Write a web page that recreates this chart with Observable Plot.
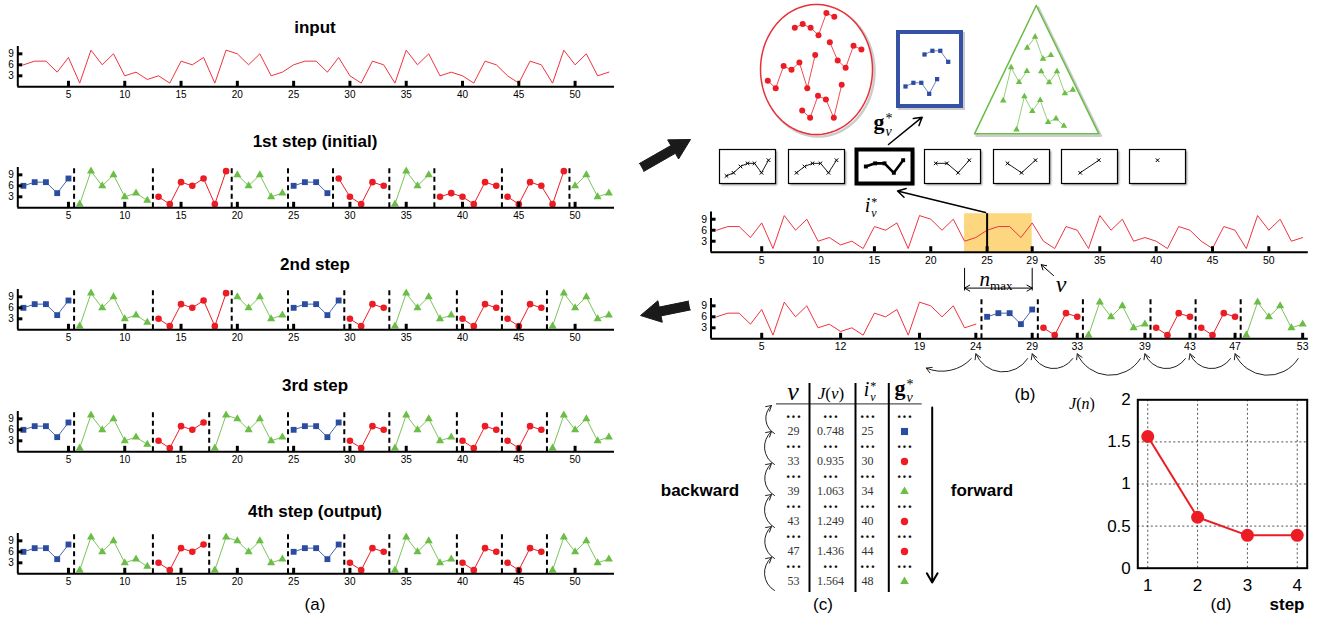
<!DOCTYPE html>
<html><head><meta charset="utf-8">
<script src="https://cdn.jsdelivr.net/npm/d3@7"></script>
<script src="https://cdn.jsdelivr.net/npm/@observablehq/plot@0.6"></script>
<style>
body{margin:0;background:#fff;}
#fig{position:relative;width:1334px;height:623px;overflow:hidden;font-family:"Liberation Sans",Arial,Helvetica,sans-serif;color:#000;}
#fig svg{overflow:visible;position:absolute;}
.title{position:absolute;font-weight:bold;font-size:17px;transform:translate(-50%,-50%);white-space:nowrap;}
.lab{position:absolute;font-size:17px;transform:translate(-50%,-50%);white-space:nowrap;}
.math{position:absolute;font-family:"Liberation Serif","DejaVu Serif",serif;font-style:italic;white-space:nowrap;line-height:1;transform:translate(-50%,-50%);}
</style></head><body><div id="fig"></div><script>
// ---------------- data ----------------
const inputSeries = [6,7,7,4,8,1,10,6,9,3,4,2,3,1,7,6,8,1,10,9,6,9,3,4,6,7,7,4,8,3,1,7,6,1,10,6,9,3,4,3,1,7,6,3,1,7,6,1,10,6,9,3,4];
const stepTitles = ["1st step (initial)","2nd step","3rd step","4th step (output)"];
const step1Segments = [[1,5,"B"],[6,12,"G"],[13,19,"R"],[20,24,"G"],[25,28,"B"],[29,33,"R"],[34,37,"G"],[38,43,"R"],[44,49,"R"],[50,53,"G"]];
const step2Segments = [[1,5,"B"],[6,12,"G"],[13,19,"R"],[20,24,"G"],[25,29,"B"],[30,33,"R"],[34,39,"G"],[40,43,"R"],[44,47,"R"],[48,53,"G"]];
const step3Segments = [[1,5,"B"],[6,12,"G"],[13,17,"R"],[18,24,"G"],[25,29,"B"],[30,33,"R"],[34,39,"G"],[40,43,"R"],[44,47,"R"],[48,53,"G"]];
const step4Segments = [[1,5,"B"],[6,12,"G"],[13,17,"R"],[18,24,"G"],[25,29,"B"],[30,33,"R"],[34,39,"G"],[40,43,"R"],[44,47,"R"],[48,53,"G"]];
const ticksA = [5,10,15,20,25,30,35,40,45,50];
const yTicks = [3,6,9];
const ticksBTop = [5,10,15,20,25,29,35,40,45,50];
const ticksBBottom = [5,12,19,24,29,33,39,43,47,53];
const backwardPrefixEnd = 24;
const backwardSegments = [[25,29,"B"],[30,33,"R"],[34,39,"G"],[40,43,"R"],[44,47,"R"],[48,53,"G"]];
const backtrackChain = [53,47,43,39,33,29,24];
const windowStart = 23, windowEnd = 29, iStar = 25;
const redCluster = [[38,43],[29,33],[13,19],[44,49]];
const blueCluster = [[25,28],[1,5]];
const greenCluster = [[50,53],[34,37],[20,24],[6,12]];
const tableV = [29,33,39,43,47,53];
const tableJ = ["0.748","0.935","1.063","1.249","1.436","1.564"];
const tableI = [25,30,34,40,44,48];
const tableG = ["B","R","G","R","R","G"];
const jSteps = [1,2,3,4];
const jValues = [1.564,0.605,0.39,0.39];

// ---------------- styles ----------------
const FONT = '"Liberation Sans", Arial, Helvetica, sans-serif';
const SERIF = '"Liberation Serif", "DejaVu Serif", serif';
const LINE_RED = "#ef3340";
const cls = {
  B:{color:"#2b4c9f", line:"#4a66ad", symbol:"square", r:3.3},
  R:{color:"#ec1c24", line:"#ec1c24", symbol:"circle", r:3.3},
  G:{color:"#6abd45", line:"#7cc35b", symbol:"triangle", r:3.0}
};
const fig = document.getElementById("fig");
function put(node, left, top){ node.style.left = left+"px"; node.style.top = top+"px"; fig.appendChild(node); return node; }
function text(html, cx, cy, className, extra){ const d=document.createElement("div"); d.className=className; d.innerHTML=html; d.style.left=cx+"px"; d.style.top=cy+"px"; if(extra) Object.assign(d.style, extra); fig.appendChild(d); return d; }
function ss(base, sup, sub, size){
  return `<span style="font-size:${size}px;">${base}</span><span style="display:inline-block;vertical-align:middle;line-height:0.95;font-size:${Math.round(size*0.62)}px;margin-left:1px;font-style:italic;font-weight:normal;color:#000"><span style="display:block;font-style:normal">*</span><span style="display:block">${sub}</span></span>`;
}
const pts = (a,b) => inputSeries.slice(a-1,b).map((v,k)=>({x:a+k, y:v}));
const segData = segs => segs.flatMap(([a,b,c],s)=>pts(a,b).map(p=>({...p, seg:s, cls:c})));
const bounds = segs => segs.slice(1).map(([a])=>a-0.5);

function segmentMarks(segs){
  const data = segData(segs);
  return [
    ...["B","R","G"].map(c=>Plot.line(data.filter(d=>d.cls===c), {x:"x", y:"y", z:"seg", stroke:cls[c].line, strokeWidth:1})),
    ...["B","R","G"].map(c=>Plot.dot(data.filter(d=>d.cls===c), {x:"x", y:"y", symbol:cls[c].symbol, r:cls[c].r, fill:cls[c].color, stroke:"none"}))
  ];
}
function dashedMarks(xs){
  return [Plot.ruleX(xs, {y1:0, y2:11, stroke:"black", strokeWidth:2, strokeDasharray:"5,3.5"})];
}
function rowPlot({marks, xticks, width, mL, mR, height, mT, mB, fs}){
  return Plot.plot({
    width, height, marginLeft:mL, marginRight:mR, marginTop:mT, marginBottom:mB,
    x:{domain:[0.5,53.5], ticks:xticks, tickSize:0, tickPadding:4, label:null},
    y:{domain:[0,11], ticks:yTicks, tickSize:0, tickPadding:4, label:null},
    style:{fontFamily:FONT, fontSize:fs+"px", color:"black", background:"transparent", overflow:"visible"},
    marks:[
      ...marks,
      Plot.ruleX(xticks, {y1:0, y2:1.5, strokeWidth:3, stroke:"black"}),
      Plot.ruleY(yTicks, {x1:0.5, x2:0.95, strokeWidth:3, stroke:"black"}),
      Plot.ruleY([0], {x1:0.5, x2:53.5, strokeWidth:2, stroke:"black"}),
      Plot.ruleX([0.5], {y1:0, y2:11, strokeWidth:2, stroke:"black"})
    ]
  });
}

// ---------------- panel (a) ----------------
const baselinesA = [86.7, 207.7, 329.5, 451.7, 573.3];
const titleYA = [28, 142, 265, 386, 512];
const stepSegs = [step1Segments, step2Segments, step3Segments, step4Segments];
function placeA(marks, i){
  const svg = rowPlot({marks, xticks:ticksA, width:625, mL:17.3, mR:11, height:75, mT:8, mB:75-48.3, fs:10});
  put(svg, 0, baselinesA[i]-48.3);
}
placeA([Plot.line(pts(1,53), {x:"x", y:"y", stroke:LINE_RED, strokeWidth:1})], 0);
text("input", 315, titleYA[0], "title");
stepSegs.forEach((segs, k) => {
  placeA([...dashedMarks(bounds(segs)), ...segmentMarks(segs)], k+1);
  text(stepTitles[k], 315, titleYA[k+1], "title");
});
text("(a)", 315, 605, "lab");

// ---------------- panel (b) top series ----------------
const bTop = rowPlot({
  marks:[
    Plot.rect([{a:windowStart, b:windowEnd}], {x1:"a", x2:"b", y1:0, y2:10.5, fill:"#fdd77f"}),
    Plot.line(pts(1,53), {x:"x", y:"y", stroke:LINE_RED, strokeWidth:1}),
    Plot.ruleX([iStar], {y1:0, y2:10.5, stroke:"black", strokeWidth:2}),
    Plot.ruleX([windowStart, windowEnd], {y1:-4.4, y2:-10.6, stroke:"black", strokeWidth:1}),
    Plot.arrow([{a:windowStart,b:windowEnd},{a:windowEnd,b:windowStart}], {x1:d=>(d.a+d.b)/2, x2:"b", y1:-9.8, y2:-9.8, stroke:"black", strokeWidth:1, headLength:9}),
    Plot.arrow([windowEnd], {x1:d=>d+1.9, y1:-6.4, x2:d=>d+0.8, y2:-3.4, stroke:"black", strokeWidth:1, headLength:9})
  ],
  xticks:ticksBTop, width:620, mL:10.5, mR:12.2, height:100, mT:11.4, mB:48.3, fs:10.5
});
put(bTop, 700, 200);

// ---------------- panel (b) bottom series ----------------
const chainPairs = backtrackChain.slice(0,-1).map((b,k)=>({from:b, to:backtrackChain[k+1]}));
const bBot = rowPlot({
  marks:[
    ...dashedMarks([backwardPrefixEnd+0.5, ...bounds(backwardSegments)]),
    Plot.line(pts(1,backwardPrefixEnd), {x:"x", y:"y", stroke:LINE_RED, strokeWidth:1}),
    ...segmentMarks(backwardSegments),
    Plot.arrow(chainPairs, {x1:d=>d.from-0.4, y1:-5.4, x2:d=>d.to, y2:-4.1, bend:62, stroke:"#222", strokeWidth:1, headLength:9}),
    Plot.arrow([backtrackChain[backtrackChain.length-1]], {x1:d=>d-0.4, y1:-5.4, x2:d=>d-4.4, y2:-8, bend:35, stroke:"#222", strokeWidth:1, headLength:9})
  ],
  xticks:ticksBBottom, width:620, mL:10.5, mR:12.2, height:95, mT:8, mB:46.7, fs:10.5
});
put(bBot, 700, 290);
text("(b)", 1025, 395, "lab");

// ---------------- panel (b) candidate boxes ----------------
for (let k = 0; k <= windowEnd - windowStart; k++) {
  const vals = inputSeries.slice(windowStart-1+k, windowEnd);
  const n = vals.length;
  const data = vals.map((v,j)=>({x:j+1, y:v}));
  const bold = (windowStart + k) === iStar;
  const svg = Plot.plot({
    width:56, height:34, margin:0,
    x:{domain:[0,n+1], axis:null}, y:{domain:[0.6,11.4], axis:null},
    style:{background:"white", overflow:"visible"},
    marks:[
      Plot.frame({stroke:"black", strokeWidth: bold?4:1.2}),
      Plot.line(data, {x:"x", y:"y", stroke:"black", strokeWidth: bold?2.6:0.9}),
      Plot.dot(data, {x:"x", y:"y", symbol: bold?"square":"times", r: bold?2.2:1.8, fill: bold?"black":"none", stroke:"black", strokeWidth: bold?0:1})
    ]
  });
  svg.style.boxShadow = "2px 2px 2px rgba(0,0,0,0.45)";
  put(svg, 719.3 + k*68.3, 149.3);
}

// ---------------- panel (b) group shapes + arrows (overlay) ----------------
const W = 1334, H = 623;
function clusterData(segsList, anchors, key){
  return segsList.flatMap(([a,b],s)=>inputSeries.slice(a-1,b).map((v,j)=>({x:anchors[s][0]+j*7.9, y:anchors[s][1]-v*3.67, seg:key+s})));
}
const redPts = clusterData(redCluster, [[794.3,38.3],[829.3,71],[767.3,91.3],[801.7,121]], "r");
const bluePts = clusterData(blueCluster, [[924,76],[905,108]], "b");
const greenPts = clusterData(greenCluster, [[1026.7,69.3],[1002.7,103.7],[1040.7,104],[1016,132.7]], "g");
const ellipse = d3.range(0, 361, 4).map(a=>({x:816+56*Math.cos(a*Math.PI/180), y:69+65*Math.sin(a*Math.PI/180)}));
const triangle = [{x:1035.7,y:5},{x:974,y:133.3},{x:1098.3,y:133.3},{x:1035.7,y:5}];
function arrowPolygon(tail, tip, hl, hw, sw){
  const dx=tip[0]-tail[0], dy=tip[1]-tail[1], L=Math.hypot(dx,dy), ux=dx/L, uy=dy/L, nx=-uy, ny=ux;
  const bx=tip[0]-ux*hl, by=tip[1]-uy*hl;
  return [[tail[0]+nx*sw,tail[1]+ny*sw],[bx+nx*sw,by+ny*sw],[bx+nx*hw,by+ny*hw],tip,[bx-nx*hw,by-ny*hw],[bx-nx*sw,by-ny*sw],[tail[0]-nx*sw,tail[1]-ny*sw]].map(([x,y])=>({x,y}));
}
const bigArrow1 = arrowPolygon([641,167],[690,139],20,11,4.5);
const bigArrow2 = arrowPolygon([689,305],[640,315],20,11,4.5);
const tableArcs = [[774,590,771,557],[774,558,771,526],[774,527,771,494],[774,495,771,463],[774,464,771,431],[774,433,771,405]].map(([x1,y1,x2,y2])=>({x1,y1,x2,y2}));

const overlay = Plot.plot({
  width:W, height:H, margin:0,
  x:{domain:[0,W], range:[0,W], axis:null}, y:{domain:[0,H], range:[0,H], axis:null},
  style:{background:"transparent", overflow:"visible"},
  marks:[
    Plot.line(ellipse, {x:"x", y:"y", dx:2, dy:2, stroke:"#999", strokeWidth:2.5, strokeOpacity:0.5}),
    Plot.line(triangle, {x:"x", y:"y", dx:2, dy:2, stroke:"#999", strokeWidth:2.5, strokeOpacity:0.5}),
    Plot.rect([0], {x1:898, x2:961, y1:32, y2:106, dx:2, dy:2, stroke:"#999", strokeWidth:4, strokeOpacity:0.5, fill:"none"}),
    Plot.line(ellipse, {x:"x", y:"y", stroke:"#e8303a", strokeWidth:1.5, fill:"white"}),
    Plot.line(triangle, {x:"x", y:"y", stroke:"#6abd45", strokeWidth:1.5, fill:"white"}),
    Plot.rect([0], {x1:898, x2:961, y1:32, y2:106, stroke:"#3552a5", strokeWidth:4, fill:"white"}),
    Plot.line(redPts, {x:"x", y:"y", z:"seg", stroke:"#ec1c24", strokeWidth:0.8}),
    Plot.dot(redPts, {x:"x", y:"y", r:3, fill:"#ec1c24"}),
    Plot.line(bluePts, {x:"x", y:"y", z:"seg", stroke:"#4a66ad", strokeWidth:0.8}),
    Plot.dot(bluePts, {x:"x", y:"y", symbol:"square", r:2.4, fill:"#2b4c9f"}),
    Plot.line(greenPts, {x:"x", y:"y", z:"seg", stroke:"#7cc35b", strokeWidth:0.8}),
    Plot.dot(greenPts, {x:"x", y:"y", symbol:"triangle", r:2.4, fill:"#6abd45"}),
    Plot.arrow([0], {x1:888, y1:144, x2:921.7, y2:116.7, stroke:"black", strokeWidth:1.5, headLength:9}),
    Plot.arrow([0], {x1:985, y1:212, x2:897, y2:190.5, stroke:"black", strokeWidth:1.5, headLength:9}),
    Plot.line(bigArrow1, {x:"x", y:"y", fill:"#1a1a1a", stroke:"#1a1a1a", strokeWidth:1}),
    Plot.line(bigArrow2, {x:"x", y:"y", fill:"#1a1a1a", stroke:"#1a1a1a", strokeWidth:1}),
    Plot.ruleY([403.4], {x1:776, x2:921.7, stroke:"#555", strokeWidth:1.2}),
    Plot.ruleX([809, 855, 888.3], {y1:383, y2:592, stroke:"black", strokeWidth:2}),
    Plot.arrow(tableArcs, {x1:"x1", y1:"y1", x2:"x2", y2:"y2", bend:55, stroke:"#222", strokeWidth:1, headLength:9}),
    Plot.arrow([0], {x1:931.7, y1:407, x2:931.7, y2:582, stroke:"black", strokeWidth:2, headLength:8})
  ]
});
put(overlay, 0, 0);

// ---------------- panel (c) table ----------------
const rowIds = tableV.flatMap((v,k)=>["d"+k, "r"+k]);
const cols = ["v","J","i","g"];
const valueRows = tableV.map((v,k)=>({row:"r"+k, v, J:tableJ[k], i:tableI[k], g:tableG[k]}));
const dotCells = tableV.flatMap((v,k)=>cols.map(c=>({row:"d"+k, col:c})));
const tablePlot = Plot.plot({
  width:W, height:H, margin:0,
  x:{type:"point", domain:cols, range:[792.7, 904], padding:0, axis:null},
  y:{type:"point", domain:rowIds, range:[412.3, 584], padding:0, axis:null},
  style:{background:"transparent", overflow:"visible", fontFamily:SERIF},
  marks:[
    Plot.text(dotCells, {x:"col", y:"row", text:()=>"···", fontWeight:"bold", fontSize:16, fill:"#111"}),
    Plot.text(valueRows, {x:()=>"v", y:"row", text:d=>String(d.v), fontSize:12, fill:"#333"}),
    Plot.text(valueRows, {x:()=>"J", y:"row", text:"J", fontSize:12, fill:"#333"}),
    Plot.text(valueRows, {x:()=>"i", y:"row", text:d=>String(d.i), fontSize:12, fill:"#333"}),
    ...["B","R","G"].map(c=>Plot.dot(valueRows.filter(d=>d.g===c), {x:()=>"g", y:"row", symbol:cls[c].symbol, r:c==="B"?4:c==="R"?3.7:3.2, fill:cls[c].color}))
  ]
});
put(tablePlot, 0, 0);
text("<i>v</i>", 793, 392, "math", {fontSize:"26px"});
text("<i>J</i>(<i>v</i>)", 831, 393, "math", {fontSize:"17px", fontStyle:"normal"});
text(ss("<i>i</i>","*","v",20), 870, 391, "math", {fontStyle:"normal"});
text(ss("<b style='font-style:normal'>g</b>","*","v",22), 904, 391, "math", {fontStyle:"normal"});
text("backward", 700, 491, "title");
text("forward", 982, 491, "title");
text("(c)", 823, 605, "lab");

// ---------------- labels for (b) ----------------
text(ss("<b style='font-style:normal'>g</b>","*","v",22), 883, 125, "math", {fontStyle:"normal"});
text(ss("<i>i</i>","*","v",20), 871, 207, "math", {fontStyle:"normal"});
text("<i style='font-size:21px'>n</i><span style='font-size:13px;font-style:normal;vertical-align:-4px'>max</span>", 996, 280, "math", {fontStyle:"normal"});
text("<i>v</i>", 1061, 284, "math", {fontSize:"24px"});

// ---------------- panel (d) ----------------
const jData = jSteps.map((s,k)=>({s, j:jValues[k]}));
const dPlot = Plot.plot({
  width:230, height:220, marginLeft:47.3, marginRight:13.3, marginTop:19.3, marginBottom:32.3,
  x:{domain:[0.8,4.2], ticks:jSteps, tickSize:0, tickPadding:11, label:null, tickFormat:d=>String(d)},
  y:{domain:[0,2], ticks:[0,0.5,1,1.5,2], tickSize:0, tickPadding:7, label:null, tickFormat:d=>String(d)},
  style:{fontFamily:FONT, fontSize:"17px", color:"black", background:"transparent", overflow:"visible"},
  marks:[
    Plot.ruleX(jSteps, {stroke:"#222", strokeWidth:0.8, strokeDasharray:"2,2.5"}),
    Plot.ruleY([0.5,1,1.5], {stroke:"#222", strokeWidth:0.8, strokeDasharray:"2,2.5"}),
    Plot.line(jData, {x:"s", y:"j", stroke:"#ec1c24", strokeWidth:2}),
    Plot.dot(jData, {x:"s", y:"j", r:6.5, fill:"#ec1c24"}),
    Plot.frame({stroke:"black", strokeWidth:2})
  ]
});
put(dPlot, 1090, 380);
text("<i>J</i>(<i>n</i>)", 1082, 404, "math", {fontSize:"16px", fontStyle:"normal"});
text("(d)", 1221, 605, "lab");
text("step", 1287, 605, "title");
</script></body></html>
